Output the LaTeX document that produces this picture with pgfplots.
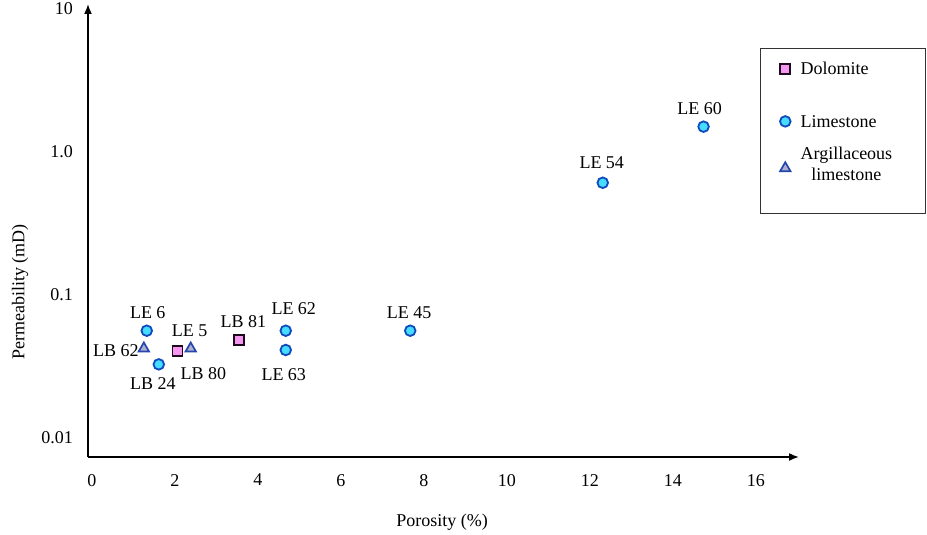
\documentclass[border=0pt]{standalone}
\usepackage{fontspec}
\setmainfont{Liberation Serif}
\usepackage{pgfplots}
\pgfplotsset{compat=1.18}
\usepackage{pgfplotstable}
\usetikzlibrary{arrows.meta}

\definecolor{dolfill}{RGB}{245,150,240}
\definecolor{dolline}{RGB}{30,10,30}
\definecolor{limfill}{RGB}{70,220,255}
\definecolor{limline}{RGB}{15,75,190}
\definecolor{argfill}{RGB}{175,175,205}
\definecolor{argline}{RGB}{35,70,175}

\pgfplotstableread{
x y label dx dy
2.06 0.0406 {LB 80} 26 -23
3.55 0.0482 {LB 81} 4 19
}\dolomite
\pgfplotstableread{
x y label dx dy
1.32 0.0562 {LE 6} 1 18
1.61 0.0327 {LB 24} -6 -19
4.67 0.0562 {LE 62} 8 22
4.67 0.0412 {LE 63} -2 -25
7.67 0.0562 {LE 45} -1 18
12.31 0.608 {LE 54} -1 20
14.74 1.50 {LE 60} -4 18
}\limestone
\pgfplotstableread{
x y label dx dy
1.25 0.0422 {LB 62} -28 -2
2.38 0.0422 {LE 5} -1 18
}\argil

\begin{document}
\begin{tikzpicture}
\useasboundingbox (0,0) rectangle (927pt,535pt);
\begin{axis}[
  at={(88pt,78pt)}, anchor=south west,
  scale only axis, width=711pt, height=453pt,
  ymode=log, xmin=-0.096, xmax=17.04, ymin=0.00736, ymax=10.8,
  axis lines=left,
  axis line style={line width=1.6pt, -{Latex[length=10pt,width=8pt]}},
  xtick={0,2,...,16},
  ytick={0.01,0.1,1,10}, yticklabels={0.01,0.1,1.0,10},
  major tick length=0pt, minor tick length=0pt,
  /pgf/number format/assume math mode=true,
  tick label style={font=\fontsize{18}{21}\selectfont, text=black},
  xticklabel style={yshift=-13.6pt},
  yticklabel style={xshift=-11.7pt},
  label style={font=\fontsize{18}{21}\selectfont},
  xlabel={Porosity (\%)},
  ylabel={Permeability (mD)},
  xlabel style={at={(axis description cs:0.498,-0.144)}, anchor=center},
  ylabel style={at={(axis description cs:-0.0956,0.364)}, anchor=center},
  clip=false,
  nodes near coords, point meta=explicit symbolic,
  visualization depends on={\thisrow{dx} \as \dx},
  visualization depends on={\thisrow{dy} \as \dy},
  every node near coord/.append style={anchor=center, xshift=\dx*1pt, yshift=\dy*1pt,
     font=\fontsize{18}{21}\selectfont, text=black, inner sep=0pt},
  legend style={at={(axis description cs:1.1786,0.9029)}, anchor=north east,
     draw=black!80, line width=0.8pt, inner xsep=20pt, inner ysep=13.8pt,
     row sep=0pt, font=\fontsize{18}{21}\selectfont,
     nodes={inner sep=0pt, text depth=},
     cells={anchor=base west},
     /tikz/every odd column/.append style={column sep=10pt}},
  legend image code/.code={\draw[mark repeat=2,mark phase=2,#1] plot coordinates {(0pt,6pt)(5pt,6pt)(10pt,6pt)};},
]
\addplot[only marks, mark=square*, mark size=5pt, line width=1.8pt,
  mark options={fill=dolfill, draw=dolline, line width=1.8pt}]
  table[x=x, y=y, meta=label]{\dolomite};
\addlegendentry{\makebox[105pt][l]{Dolomite\rule[-40.8pt]{0pt}{40.8pt}}}
\addplot[only marks, mark=*, mark size=5.3pt, line width=1.8pt,
  mark options={fill=limfill, draw=limline, line width=1.8pt}]
  table[x=x, y=y, meta=label]{\limestone};
\addlegendentry{\makebox[105pt][l]{Limestone\rule[-17pt]{0pt}{17pt}}}
\addplot[only marks, mark=triangle*, mark size=6pt, line width=1.7pt,
  mark options={fill=argfill, draw=argline, line width=1.7pt}]
  table[x=x, y=y, meta=label]{\argil};
\addlegendentry{{\makebox[105pt][l]{\raisebox{4.5pt}{\begin{tabular}{@{}c@{}}Argillaceous\\limestone\end{tabular}}\rule[-25.2pt]{0pt}{25.2pt}}}}
\end{axis}
\end{tikzpicture}
\end{document}
